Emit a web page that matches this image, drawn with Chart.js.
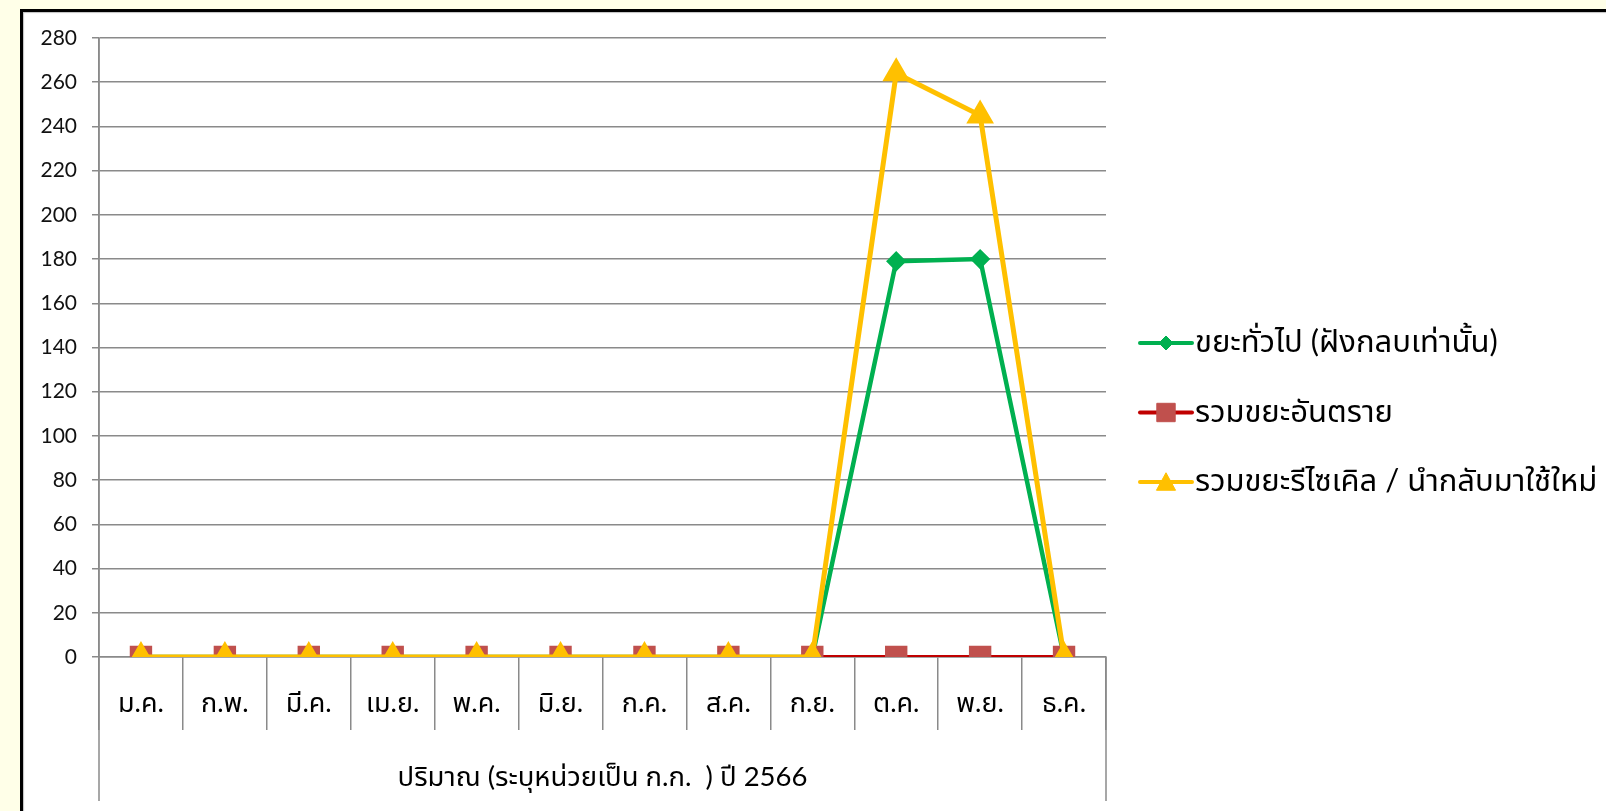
<!DOCTYPE html>
<html>
<head>
<meta charset="utf-8">
<script src="https://cdn.jsdelivr.net/npm/chart.js@4/dist/chart.umd.min.js"></script>
<style>
  html, body { margin:0; padding:0; width:1606px; height:811px; overflow:hidden; background:#FFFFE8; }
  #panel { position:absolute; left:20px; top:9px; width:1700px; height:900px; background:#fff;
           border-left:3px solid #000; border-top:3px solid #000; box-shadow: inset 1px 1px 1px rgba(0,0,0,0.25); }
  #c { position:absolute; left:0; top:0; }
</style>
</head>
<body>
<div id="panel"></div>
<canvas id="c" width="1606" height="811"></canvas>
<script>
const categories = ['ม.ค.','ก.พ.','มี.ค.','เม.ย.','พ.ค.','มิ.ย.','ก.ค.','ส.ค.','ก.ย.','ต.ค.','พ.ย.','ธ.ค.'];
const generalWaste = [0,0,0,0,0,0,0,0,0,179,180,0];
const hazardousWaste = [0,0,0,0,0,0,0,0,0,0,0,0];
const recycleWaste = [0,0,0,0,0,0,0,0,0,264,245,0];
const seriesNames = ['ขยะทั่วไป (ฝังกลบเท่านั้น)','รวมขยะอันตราย','รวมขยะรีไซเคิล / นำกลับมาใช้ใหม่'];
const xAxisTitle = 'ปริมาณ (ระบุหน่วยเป็น ก.ก.  ) ปี 2566';
const yMin = 0, yMax = 280, yStep = 20;

const FONT = "Lato, 'Noto Sans', 'Noto Sans Thai', Tahoma, sans-serif";
const GRID = '#8a8a8a';

function drawMarker(ctx, style, x, y, r, fill, stroke) {
  ctx.save();
  ctx.fillStyle = fill; ctx.strokeStyle = stroke; ctx.lineWidth = 1;
  ctx.beginPath();
  if (style === 'rectRot') {
    ctx.moveTo(x, y - r); ctx.lineTo(x + r, y); ctx.lineTo(x, y + r); ctx.lineTo(x - r, y);
  } else if (style === 'rect') {
    const s = Math.SQRT1_2 * r;
    ctx.rect(x - s, y - s, 2 * s, 2 * s);
  } else if (style === 'triangle') {
    const h = r * 1.5;
    ctx.moveTo(x, y - h / 2 - 1); ctx.lineTo(x + r * 0.87, y + h / 2); ctx.lineTo(x - r * 0.87, y + h / 2);
  }
  ctx.closePath(); ctx.fill(); ctx.stroke();
  ctx.restore();
}

const extrasPlugin = {
  id: 'extras',
  beforeDatasetsDraw(chart) {
    const ctx = chart.ctx, a = chart.chartArea;
    ctx.save();
    ctx.strokeStyle = GRID; ctx.lineWidth = 1.5;
    ctx.beginPath();
    ctx.moveTo(a.left, a.top); ctx.lineTo(a.left, 801);
    ctx.moveTo(a.right, a.bottom); ctx.lineTo(a.right, 801);
    ctx.stroke();
    ctx.restore();
  },
  afterDraw(chart) {
    const ctx = chart.ctx, a = chart.chartArea;
    const rows = [343, 412.5, 482];
    const x0 = a.right + 34, x1 = a.right + 86;
    chart.data.datasets.forEach((ds, i) => {
      const y = rows[i];
      ctx.save();
      ctx.strokeStyle = ds.borderColor; ctx.lineWidth = 4;
      ctx.lineCap = 'round';
      ctx.beginPath(); ctx.moveTo(x0, y); ctx.lineTo(x1, y); ctx.stroke();
      ctx.restore();
      drawMarker(ctx, ds.pointStyle, (x0 + x1) / 2, y, ds.pointRadius, ds.pointBackgroundColor, ds.pointBorderColor);
      ctx.save();
      ctx.fillStyle = '#000';
      ctx.font = "31px " + FONT;
      ctx.textBaseline = 'middle';
      ctx.fillText(ds.label, x1 + 3, y - 1);
      ctx.restore();
    });
  }
};

new Chart(document.getElementById('c'), {
  type: 'line',
  data: {
    labels: categories,
    datasets: [
      { label: seriesNames[0], data: generalWaste, borderColor: '#00B050', borderWidth: 4.5,
        pointStyle: 'rectRot', pointRadius: 7, pointBackgroundColor: '#00B050', pointBorderColor: '#00B050', order: 3 },
      { label: seriesNames[1], data: hazardousWaste, borderColor: '#C00000', borderWidth: 4,
        pointStyle: 'rect', pointRadius: 13, pointBackgroundColor: '#C0504D', pointBorderColor: '#C0504D', order: 2 },
      { label: seriesNames[2], data: recycleWaste, borderColor: '#FFC000', borderWidth: 5,
        pointStyle: 'triangle', pointRadius: 11, pointBackgroundColor: '#FFC000', pointBorderColor: '#FFC000', order: 1 }
    ]
  },
  options: {
    responsive: false,
    devicePixelRatio: 1,
    animation: false,
    layout: { padding: { left: 0, top: 38, right: 500, bottom: 0 } },
    plugins: { legend: { display: false }, tooltip: { enabled: false } },
    elements: { line: { tension: 0 }, point: { hoverRadius: 0 } },
    scales: {
      x: {
        offset: true,
        grid: { display: true, offset: true, drawOnChartArea: false, drawTicks: true, tickLength: 73, color: GRID, lineWidth: 1.5 },
        border: { display: true, color: GRID, width: 1.5 },
        ticks: { color: '#000', font: { family: FONT, size: 27 }, padding: -43, maxRotation: 0, autoSkip: false },
        title: { display: true, text: xAxisTitle, color: '#000', font: { family: FONT, size: 27.5 }, padding: { top: 0, bottom: 17 } },
        afterFit(s) { s.height = 154; }
      },
      y: {
        min: yMin, max: yMax,
        grid: { color: GRID, lineWidth: 1.5, tickLength: 7, drawTicks: true },
        border: { display: true, color: GRID, width: 1.5 },
        ticks: { stepSize: yStep, color: '#111', font: { family: FONT, size: 21 }, padding: 15 },
        afterFit(s) { s.width = 99; }
      }
    }
  },
  plugins: [extrasPlugin]
});
</script>
</body>
</html>
